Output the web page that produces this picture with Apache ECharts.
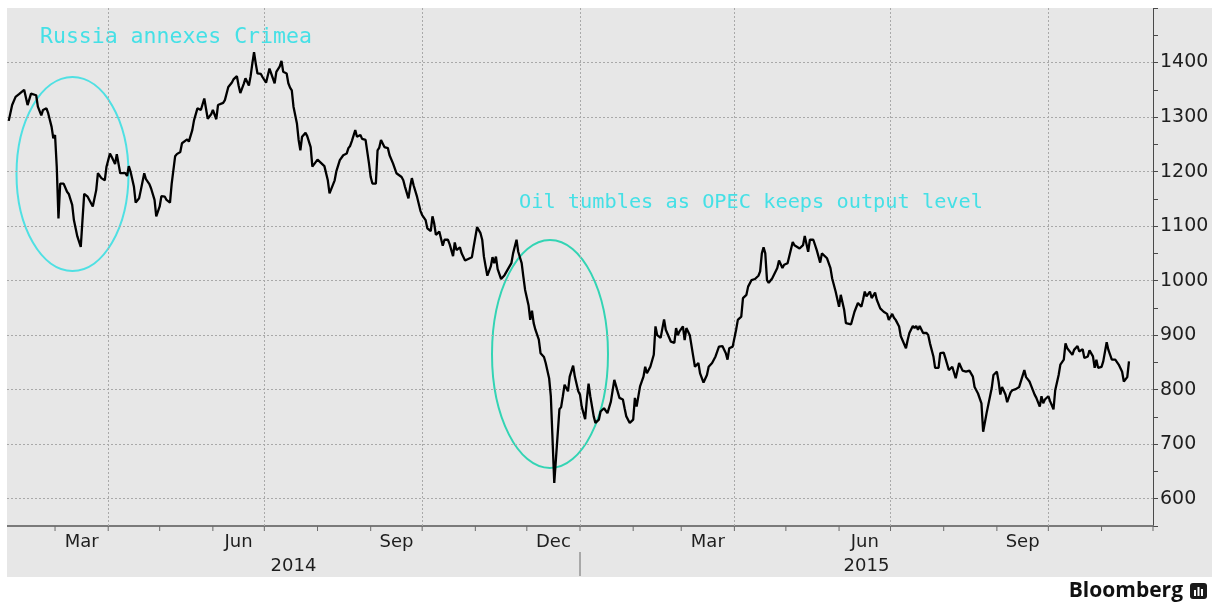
<!DOCTYPE html>
<html>
<head>
<meta charset="utf-8">
<script src="https://cdn.jsdelivr.net/npm/echarts@6/dist/echarts.min.js"></script>
<style>
html,body{margin:0;padding:0;background:#fff;}
#chart{width:1212px;height:603px;}
</style>
</head>
<body>
<div id="chart"></div>
<script>
// ---------- data ----------
const dates2014 = ['02-02','02-04','02-06','02-08','02-09','02-11','02-13','02-15','02-16','02-18','02-19','02-21','02-22','02-24','02-25','02-27','02-28',
'03-01','03-02','03-03','03-04','03-05','03-06','03-08','03-09','03-11','03-12','03-14','03-16','03-17','03-18','03-20','03-21','03-23','03-24','03-25','03-26','03-28','03-30','03-31',
'04-02','04-03','04-05','04-06','04-08','04-09','04-11','04-12','04-13','04-14','04-16','04-17','04-19','04-20','04-22','04-23','04-25','04-26','04-28','04-29',
'05-01','05-02','05-04','05-05','05-07','05-08','05-10','05-11','05-13','05-14','05-17','05-18','05-20','05-21','05-23','05-25','05-27','05-29','05-31',
'06-01','06-03','06-04','06-07','06-08','06-10','06-12','06-13','06-15','06-16','06-17','06-19','06-20','06-22','06-23','06-24','06-25','06-26','06-27','06-29','06-30',
'07-02','07-03','07-04','07-05','07-07','07-08','07-10','07-11','07-12','07-14','07-15','07-16','07-17','07-18','07-20','07-21','07-22','07-23','07-25','07-26','07-28','07-29','07-30',
'08-01','08-03','08-04','08-05','08-07','08-08','08-09','08-11','08-12','08-13','08-14','08-16','08-18','08-19','08-20','08-21','08-22','08-23','08-24','08-26','08-27','08-28','08-29','08-31',
'09-01','09-02','09-04','09-05','09-06','09-07','09-09','09-11','09-12','09-14','09-16','09-17','09-19','09-20','09-21','09-23','09-24','09-25','09-26','09-28','09-30',
'10-01','10-03','10-04','10-06','10-07','10-08','10-09','10-11','10-13','10-14','10-16','10-17','10-19','10-20','10-21','10-23','10-24','10-26','10-27','10-30','10-31',
'11-02','11-04','11-05','11-06','11-07','11-08','11-10','11-11','11-12','11-13','11-14','11-16','11-18','11-20','11-22','11-23','11-25','11-26','11-28','11-29','11-30',
'12-02','12-03','12-04','12-05','12-06','12-08','12-09','12-11','12-12','12-14','12-15','12-17','12-20','12-21','12-22','12-23','12-25','12-26','12-28','12-29','12-31'];
const close2014 = [1293,1322,1337,1342,1340,1350,1322,1343,1345,1340,1319,1303,1313,1316,1307,1282,1261,
1267,1209,1114,1178,1181,1178,1163,1159,1139,1111,1081,1062,1111,1159,1154,1148,1136,1133,1166,1197,1188,1184,1209,
1233,1227,1214,1232,1197,1194,1197,1192,1210,1200,1172,1143,1151,1166,1197,1186,1177,1169,1148,1118,
1136,1155,1154,1148,1143,1178,1228,1232,1236,1252,1259,1255,1276,1294,1316,1313,1334,1297,1305,
1313,1296,1322,1326,1331,1355,1363,1369,1375,1358,1344,1361,1371,1358,1375,1398,1419,1398,1380,1379,1373,
1363,1363,1389,1391,1362,1383,1393,1403,1383,1380,1362,1354,1349,1319,1288,1258,1239,1264,1271,1265,1245,1209,1208,
1222,1216,1214,1210,1184,1160,1159,1184,1201,1200,1221,1230,1233,1243,1247,1256,1258,1276,1264,1267,1260,1262,1258,1215,
1190,1178,1178,1239,1244,1258,1245,1243,1230,1215,1197,1200,1190,1184,1172,1151,1172,1188,1175,1154,1128,
1120,1111,1096,1091,1118,1105,1084,1090,1064,1075,1075,1067,1045,1070,1056,1061,1050,1037,1035,1043,1062,
1098,1087,1075,1044,1026,1009,1026,1043,1032,1044,1021,1003,1010,1021,1032,1050,1075,1053,1032,1007,983,
955,928,945,922,910,892,867,860,849,821,788,629,764,768,788,809,797,824,844,824,797];

const dates2015 = ['01-01','01-02','01-04','01-05','01-06','01-07','01-09','01-10','01-12','01-13','01-15','01-17','01-19','01-21','01-22','01-24','01-26','01-27','01-28','01-30',
'02-01','02-02','02-03','02-05','02-07','02-08','02-09','02-11','02-13','02-14','02-15','02-17','02-19','02-20','02-21','02-23','02-25','02-26','02-27','02-28',
'03-02','03-03','03-04','03-05','03-06','03-08','03-09','03-11','03-12','03-14','03-16','03-17','03-19','03-21','03-22','03-23','03-25','03-27','03-28','03-29','03-31',
'04-02','04-03','04-05','04-06','04-08','04-09','04-11','04-13','04-15','04-16','04-17','04-18','04-19','04-20','04-21','04-23','04-24','04-26','04-27','04-29','04-30',
'05-02','05-03','05-05','05-06','05-09','05-11','05-12','05-14','05-15','05-17','05-19','05-21','05-22','05-23','05-25','05-27','05-28','05-30',
'06-01','06-02','06-04','06-05','06-08','06-09','06-10','06-12','06-14','06-15','06-16','06-17','06-19','06-20','06-22','06-23','06-25','06-27','06-29','06-30',
'07-02','07-03','07-04','07-06','07-07','07-10','07-11','07-12','07-14','07-15','07-16','07-17','07-18','07-20','07-22','07-23','07-24','07-26','07-27','07-29','07-30',
'08-01','08-02','08-04','08-05','08-06','08-08','08-10','08-12','08-14','08-16','08-18','08-19','08-21','08-23','08-24','08-26','08-27','08-29','08-30',
'09-01','09-02','09-03','09-04','09-06','09-07','09-09','09-10','09-12','09-14','09-15','09-17','09-18','09-20','09-21','09-23','09-24','09-26','09-27','09-28','09-29',
'10-01','10-02','10-04','10-05','10-07','10-08','10-10','10-11','10-12','10-14','10-15','10-16','10-18','10-19','10-21','10-22','10-24','10-25','10-27','10-28','10-29','10-30',
'11-01','11-02','11-04','11-05','11-07','11-09','11-11','11-13','11-14','11-16','11-17'];
const close2015 = [791,769,746,782,811,788,751,739,745,760,766,757,778,818,819,785,782,766,751,739,
745,785,769,806,824,842,830,842,864,916,900,895,929,910,911,888,886,913,900,907,
916,891,913,910,900,861,842,849,830,813,827,842,849,861,861,879,880,867,855,876,879,
910,928,934,968,974,989,1001,1003,1009,1017,1050,1061,1050,1001,996,1004,1004,1023,1037,1023,1029,
1032,1029,1071,1065,1059,1065,1082,1053,1075,1075,1056,1033,1050,1050,1041,1023,1004,980,
952,974,946,922,920,922,943,959,952,965,980,971,980,968,978,965,949,943,939,928,
939,932,928,916,898,876,891,904,917,913,917,910,917,904,904,900,885,861,840,840,867,
868,858,836,835,842,821,849,835,833,835,824,805,793,775,723,757,754,803,827,
833,815,791,805,791,777,795,799,801,805,807,836,823,815,807,791,785,769,788,775,782,
788,779,764,799,827,846,855,885,876,868,864,873,880,870,874,858,861,872,861,840,855,840,
842,852,887,873,855,855,846,833,815,823,852];

// axis definitions
const xStart = '2014-02-01';
const xEnd = '2015-12-01';
const yMin = 550, yMax = 1500, yStep = 50;
const yTickLabels = [600,700,800,900,1000,1100,1200,1300,1400];
const quarterLines = ['2014-04-01','2014-07-01','2014-10-01','2015-01-01','2015-04-01','2015-07-01','2015-10-01'];
const monthStarts = ['2014-03-01','2014-04-01','2014-05-01','2014-06-01','2014-07-01','2014-08-01','2014-09-01','2014-10-01','2014-11-01','2014-12-01',
'2015-01-01','2015-02-01','2015-03-01','2015-04-01','2015-05-01','2015-06-01','2015-07-01','2015-08-01','2015-09-01','2015-10-01','2015-11-01','2015-12-01'];
const monthLabelNames = ['Mar','Jun','Sep','Dec','Mar','Jun','Sep'];
const monthLabelFrom = ['2014-03-01','2014-06-01','2014-09-01','2014-12-01','2015-03-01','2015-06-01','2015-09-01'];
const monthLabelTo   = ['2014-04-01','2014-07-01','2014-10-01','2015-01-01','2015-04-01','2015-07-01','2015-10-01'];
const yearNames = ['2014','2015'];
const yearFrom = ['2014-02-01','2015-01-01'];
const yearTo = ['2015-01-01','2015-12-01'];
const yearBreaks = ['2015-01-01'];

const annotations = ['Russia annexes Crimea', 'Oil tumbles as OPEC keeps output level'];

// ---------- build ----------
function t(s){ const p = s.split('-'); return new Date(+p[0], +p[1]-1, +p[2]).getTime(); }
const lineData = dates2014.map((d,i)=>[t('2014-'+d), close2014[i]])
  .concat(dates2015.map((d,i)=>[t('2015-'+d), close2015[i]]));

const FONT = '"DejaVu Sans", sans-serif';
const CYAN = '#45e0e6';
const GRIDC = '#a9a9a9';

const chart = echarts.init(document.getElementById('chart'), null, {renderer:'canvas'});

const option = {
  animation:false,
  backgroundColor:'#e7e7e7',
  grid:{left:7, right:59, top:8, bottom:77},
  xAxis:{
    type:'time', min:t(xStart), max:t(xEnd),
    axisLine:{show:true, lineStyle:{color:'#7a7a7a', width:2}},
    axisTick:{show:false}, axisLabel:{show:false}, splitLine:{show:false}
  },
  yAxis:{
    type:'value', position:'right', min:yMin, max:yMax, interval:yStep,
    axisLine:{show:true, lineStyle:{color:'#4a4a4a', width:1}},
    axisTick:{show:true, inside:false, length:5, lineStyle:{color:'#4a4a4a'}},
    axisLabel:{
      margin:7, color:'#1e1e1e', fontSize:19, fontFamily:FONT,
      formatter:v => yTickLabels.indexOf(v) >= 0 ? String(v) : ''
    },
    splitLine:{show:false}
  },
  series:[
    {
      type:'line', name:'Index', data:lineData, showSymbol:false, symbol:'none',
      lineStyle:{color:'#000', width:2.3}, z:5, silent:true,
      markLine:{
        silent:true, symbol:['none','none'], label:{show:false}, z:1,
        lineStyle:{color:GRIDC, type:[2,2], width:1},
        data: yTickLabels.map(v=>({yAxis:v})).concat(quarterLines.map(d=>({xAxis:t(d)})))
      }
    },
    {
      type:'custom', name:'monthTicks', silent:true, clip:false, z:3,
      data: monthStarts.map(d=>[t(d), yMin]),
      renderItem:(params, api)=>{
        const p = api.coord([api.value(0), api.value(1)]);
        return {type:'line', shape:{x1:p[0], y1:p[1], x2:p[0], y2:p[1]+5}, style:{stroke:'#6a6a6a', lineWidth:1}};
      }
    },
    {
      type:'custom', name:'monthLabels', silent:true, clip:false, z:3,
      encode:{x:[0,1], y:2},
      data: monthLabelFrom.map((d,i)=>[t(d), t(monthLabelTo[i]), yMin]),
      renderItem:(params, api)=>{
        const a = api.coord([api.value(0), api.value(2)]);
        const b = api.coord([api.value(1), api.value(2)]);
        return {type:'text', style:{text:monthLabelNames[params.dataIndex], x:(a[0]+b[0])/2, y:a[1]+16,
          textAlign:'center', textVerticalAlign:'middle', fill:'#1e1e1e', font:'18px '+FONT}};
      }
    },
    {
      type:'custom', name:'yearLabels', silent:true, clip:false, z:3,
      encode:{x:[0,1], y:2},
      data: yearFrom.map((d,i)=>[t(d), t(yearTo[i]), yMin]),
      renderItem:(params, api)=>{
        const a = api.coord([api.value(0), api.value(2)]);
        const b = api.coord([api.value(1), api.value(2)]);
        return {type:'text', style:{text:yearNames[params.dataIndex], x:(a[0]+b[0])/2, y:a[1]+40,
          textAlign:'center', textVerticalAlign:'middle', fill:'#1e1e1e', font:'18px '+FONT}};
      }
    },
    {
      type:'custom', name:'yearBreaks', silent:true, clip:false, z:3,
      data: yearBreaks.map(d=>[t(d), yMin]),
      renderItem:(params, api)=>{
        const p = api.coord([api.value(0), api.value(1)]);
        return {type:'line', shape:{x1:p[0], y1:p[1]+26, x2:p[0], y2:p[1]+50}, style:{stroke:'#6a6a6a', lineWidth:1}};
      }
    }
  ],
  graphic:[
    // white margins around the grey panel
    {type:'rect', shape:{x:0, y:0, width:1212, height:8}, style:{fill:'#fff'}, z:100, silent:true},
    {type:'rect', shape:{x:0, y:0, width:7, height:603}, style:{fill:'#fff'}, z:100, silent:true},
    {type:'rect', shape:{x:0, y:577, width:1212, height:26}, style:{fill:'#fff'}, z:100, silent:true},
    // annotations
    {type:'ellipse', shape:{cx:72.5, cy:174, rx:56, ry:97}, style:{fill:'none', stroke:'#4fe0e3', lineWidth:2}, z:1, silent:true},
    {type:'ellipse', shape:{cx:550, cy:354, rx:58, ry:114}, style:{fill:'none', stroke:'#33d4b4', lineWidth:2}, z:1, silent:true},
    {type:'text', style:{text:annotations[0], x:40, y:37, textAlign:'left', textVerticalAlign:'middle', fill:CYAN, font:'21.5px "DejaVu Sans Mono", monospace'}, z:1, silent:true},
    {type:'text', style:{text:annotations[1], x:519, y:203, textAlign:'left', textVerticalAlign:'middle', fill:CYAN, font:'20.3px "DejaVu Sans Mono", monospace'}, z:1, silent:true},
    // Bloomberg mark
    {type:'text', style:{text:'Bloomberg', x:1183, y:591, textAlign:'right', textVerticalAlign:'middle', fill:'#111', font:'bold 21px "Open Sans", sans-serif'}, z:101, silent:true},
    {type:'rect', shape:{x:1190, y:583, width:17, height:16, r:3}, style:{fill:'#1a1a1a'}, z:101, silent:true},
    {type:'rect', shape:{x:1194, y:590, width:2, height:6}, style:{fill:'#fff'}, z:102, silent:true},
    {type:'rect', shape:{x:1197.5, y:587, width:2, height:9}, style:{fill:'#fff'}, z:102, silent:true},
    {type:'rect', shape:{x:1201, y:589, width:2, height:7}, style:{fill:'#fff'}, z:102, silent:true}
  ]
};
chart.setOption(option);
</script>
</body>
</html>
